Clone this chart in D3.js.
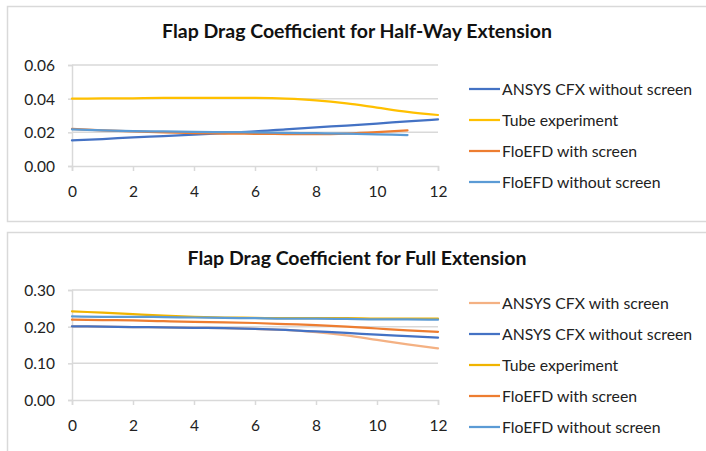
<!DOCTYPE html>
<html>
<head>
<meta charset="utf-8">
<script src="https://cdn.jsdelivr.net/npm/d3@7"></script>
<style>
  html, body { margin: 0; padding: 0; background: #fff; }
  svg { display: block; font-family: Lato, "Open Sans", sans-serif; }
</style>
</head>
<body>
<svg id="chart" width="706" height="451"></svg>
<script>
// Flap angle / position steps on the x axis
const xSteps = [0, 1, 2, 3, 4, 5, 6, 7, 8, 9, 10, 11, 12];
const xTicks = [0, 2, 4, 6, 8, 10, 12];

// Half-way extension
const halfTitle = "Flap Drag Coefficient for Half-Way Extension";
const halfTicks = [0, 0.02, 0.04, 0.06];
const halfCfxWithout = [0.0152, 0.016, 0.017, 0.0178, 0.0187, 0.0196, 0.0205, 0.0218, 0.023, 0.024, 0.0252, 0.0265, 0.0277];
const halfTube = [0.040, 0.0401, 0.0402, 0.0404, 0.0405, 0.0405, 0.0404, 0.0400, 0.0390, 0.0372, 0.0347, 0.0322, 0.0303];
const halfFloWith = [0.022, 0.0212, 0.0205, 0.0200, 0.0196, 0.0193, 0.0191, 0.019, 0.019, 0.0193, 0.0201, 0.0212];
const halfFloWithout = [0.0218, 0.0212, 0.0207, 0.0205, 0.0203, 0.0201, 0.0200, 0.0197, 0.0195, 0.0192, 0.0188, 0.0184];

// Full extension
const fullTitle = "Flap Drag Coefficient for Full Extension";
const fullTicks = [0, 0.1, 0.2, 0.3];
const fullCfxWith = [0.201, 0.200, 0.199, 0.198, 0.197, 0.196, 0.194, 0.191, 0.185, 0.176, 0.164, 0.152, 0.141];
const fullCfxWithout = [0.201, 0.200, 0.199, 0.198, 0.197, 0.196, 0.194, 0.191, 0.187, 0.183, 0.178, 0.174, 0.170];
const fullTube = [0.242, 0.238, 0.234, 0.230, 0.227, 0.225, 0.224, 0.223, 0.223, 0.223, 0.222, 0.222, 0.222];
const fullFloWith = [0.219, 0.218, 0.217, 0.215, 0.213, 0.212, 0.210, 0.207, 0.204, 0.200, 0.195, 0.190, 0.186];
const fullFloWithout = [0.228, 0.227, 0.227, 0.226, 0.225, 0.224, 0.223, 0.222, 0.222, 0.221, 0.220, 0.220, 0.219];

const palette = {
  cfxWith: "#F4B183",
  cfxWithout: "#4472C4",
  tube: "#FFC000",
  floWith: "#ED7D31",
  floWithout: "#5B9BD5"
};

const halfSeries = [
  { name: "ANSYS CFX without screen", values: halfCfxWithout, color: palette.cfxWithout },
  { name: "Tube experiment", values: halfTube, color: palette.tube },
  { name: "FloEFD with screen", values: halfFloWith, color: palette.floWith },
  { name: "FloEFD without screen", values: halfFloWithout, color: palette.floWithout }
];
const fullSeries = [
  { name: "ANSYS CFX with screen", values: fullCfxWith, color: palette.cfxWith },
  { name: "ANSYS CFX without screen", values: fullCfxWithout, color: palette.cfxWithout },
  { name: "Tube experiment", values: fullTube, color: "#F0B400" },
  { name: "FloEFD with screen", values: fullFloWith, color: palette.floWith },
  { name: "FloEFD without screen", values: fullFloWithout, color: palette.floWithout }
];

const svg = d3.select("#chart");
const gridColor = "#D9D9D9";
const textColor = "#222";

function drawPanel(cfg) {
  const g = svg.append("g");
  // panel frame
  g.append("rect")
    .attr("x", cfg.frame.x).attr("y", cfg.frame.y)
    .attr("width", cfg.frame.w).attr("height", cfg.frame.h)
    .attr("fill", "#fff").attr("stroke", gridColor).attr("stroke-width", 1.5);

  g.append("text")
    .attr("x", 357).attr("y", cfg.titleY)
    .attr("text-anchor", "middle")
    .attr("font-weight", "bold").attr("font-size", 19.5)
    .attr("fill", "#111")
    .text(cfg.title);

  const x = d3.scaleLinear().domain([0, 12]).range([72, 438]);
  const y = d3.scaleLinear().domain(cfg.domain).range([cfg.bottom, cfg.top]);

  // horizontal gridlines
  g.append("g").selectAll("line").data(cfg.ticks.slice(1)).join("line")
    .attr("x1", x(0)).attr("x2", x(12))
    .attr("y1", d => y(d)).attr("y2", d => y(d))
    .attr("stroke", gridColor).attr("stroke-width", 1.5);

  // y axis
  const yAxis = g.append("g")
    .attr("transform", `translate(${x(0)},0)`)
    .call(d3.axisLeft(y).tickValues(cfg.ticks).tickFormat(d3.format(".2f")).tickSize(4).tickPadding(13));
  // x axis
  const xAxis = g.append("g")
    .attr("transform", `translate(0,${cfg.bottom})`)
    .call(d3.axisBottom(x).tickValues(xTicks).tickFormat(d3.format("d")).tickSize(5).tickPadding(15));

  [yAxis, xAxis].forEach(a => {
    a.attr("font-size", 15.5).attr("font-family", "Lato, 'Open Sans', sans-serif");
    a.select(".domain").attr("stroke", gridColor).attr("stroke-width", 1.5);
    a.selectAll(".tick line").attr("stroke", gridColor).attr("stroke-width", 1.5);
    a.selectAll(".tick text").attr("fill", textColor);
  });
  yAxis.selectAll(".tick text").attr("dy", "0.36em");

  const line = d3.line()
    .x((d, i) => x(xSteps[i]))
    .y(d => y(d))
    .curve(d3.curveMonotoneX);

  g.append("g").selectAll("path").data(cfg.series).join("path")
    .attr("d", s => line(s.values))
    .attr("fill", "none")
    .attr("stroke", s => s.color)
    .attr("stroke-width", 2.25)
    .attr("stroke-linecap", "round");

  // legend
  const leg = g.append("g").selectAll("g").data(cfg.series).join("g")
    .attr("transform", (d, i) => `translate(469,${cfg.legendY + i * cfg.legendStep})`);
  leg.append("line").attr("x1", 0).attr("x2", 31)
    .attr("stroke", d => d.color).attr("stroke-width", 2.25);
  leg.append("text").attr("x", 33).attr("dy", "0.36em")
    .attr("font-size", 15.8).attr("fill", textColor)
    .text(d => d.name);
}

drawPanel({
  frame: { x: 7.5, y: 6.5, w: 720, h: 215 },
  title: halfTitle, titleY: 38,
  domain: [0, 0.06], ticks: halfTicks, top: 65, bottom: 166,
  series: halfSeries, legendY: 89, legendStep: 31
});

drawPanel({
  frame: { x: 7.5, y: 232.5, w: 720, h: 240 },
  title: fullTitle, titleY: 265,
  domain: [0, 0.3], ticks: fullTicks, top: 290, bottom: 400,
  series: fullSeries, legendY: 303, legendStep: 31
});
</script>
</body>
</html>
